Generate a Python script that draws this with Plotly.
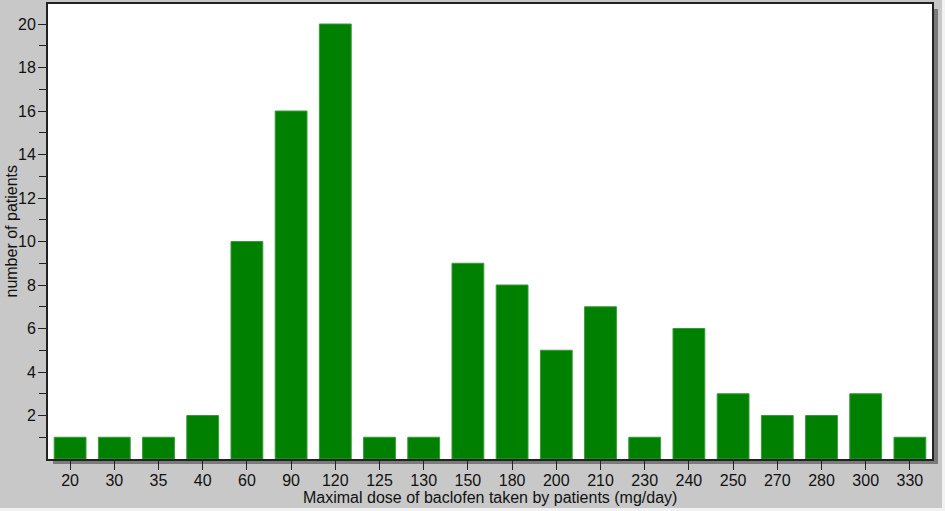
import plotly.graph_objects as go

doses = ["20", "30", "35", "40", "60", "90", "120", "125", "130", "150",
         "180", "200", "210", "230", "240", "250", "270", "280", "300", "330"]
patients = [1, 1, 1, 2, 10, 16, 20, 1, 1, 9, 8, 5, 7, 1, 6, 3, 2, 2, 3, 1]
major_ticks = [2, 4, 6, 8, 10, 12, 14, 16, 18, 20]
minor_ticks = [1, 3, 5, 7, 9, 11, 13, 15, 17, 19]

W, H = 942, 508
ml, mr, mt, mb = 48, 10, 4, 49
pw, ph = W - ml - mr, H - mt - mb
dx, dy = 5 / pw, 5 / ph

fig = go.Figure()
fig.add_trace(go.Bar(
    x=doses, y=patients,
    marker=dict(color="#008000", line=dict(color="#3a9a3a", width=1)),
    hoverinfo="skip",
))

fig.update_layout(
    width=W, height=H,
    margin=dict(l=ml, r=mr, t=mt, b=mb, autoexpand=False),
    paper_bgcolor="#C8C8C8",
    plot_bgcolor="rgba(0,0,0,0)",
    bargap=0.28,
    showlegend=False,
    font=dict(family="Liberation Sans, Arial, sans-serif", size=16, color="#111"),
    shapes=[
        dict(type="rect", xref="paper", yref="paper",
             x0=dx, x1=1 + dx * 1.2, y0=-dy, y1=1 - dy,
             fillcolor="#7a7a7a", line=dict(width=0), layer="below"),
        dict(type="rect", xref="paper", yref="paper",
             x0=0, x1=1, y0=0, y1=1,
             fillcolor="white", line=dict(width=0), layer="below"),
    ],
    annotations=[
        dict(text="Maximal dose of baclofen taken by patients (mg/day)",
             xref="paper", yref="paper", x=0.5, y=-39 / ph,
             xanchor="center", yanchor="middle", showarrow=False,
             font=dict(size=16)),
        dict(text="number of patients",
             xref="paper", yref="paper", x=-37 / pw, y=0.5,
             xanchor="center", yanchor="middle", showarrow=False,
             textangle=-90, font=dict(size=16)),
    ],
)

fig.update_xaxes(
    type="category", range=[-0.5, 19.5], automargin=False,
    showline=True, linecolor="#222", linewidth=2, mirror=True,
    ticks="outside", ticklen=9, tickwidth=1, tickcolor="#222",
    ticklabelstandoff=-3,
    showgrid=False, tickfont=dict(size=16),
)
fig.update_yaxes(
    range=[0, 20.92], automargin=False,
    showline=True, linecolor="#222", linewidth=2, mirror=True,
    tickmode="array", tickvals=major_ticks,
    ticktext=[str(v) for v in major_ticks],
    ticks="outside", ticklen=8, tickwidth=1, tickcolor="#222",
    ticklabelstandoff=-1,
    minor=dict(tickmode="array", tickvals=minor_ticks, ticks="outside",
               ticklen=7, tickwidth=1, tickcolor="#222", showgrid=False),
    showgrid=False, zeroline=False, tickfont=dict(size=16),
)

fig.write_html("out.html", config={"displayModeBar": False, "staticPlot": True},
               post_script="document.body.style.margin='0';document.body.style.background='#f2f2f2';")
